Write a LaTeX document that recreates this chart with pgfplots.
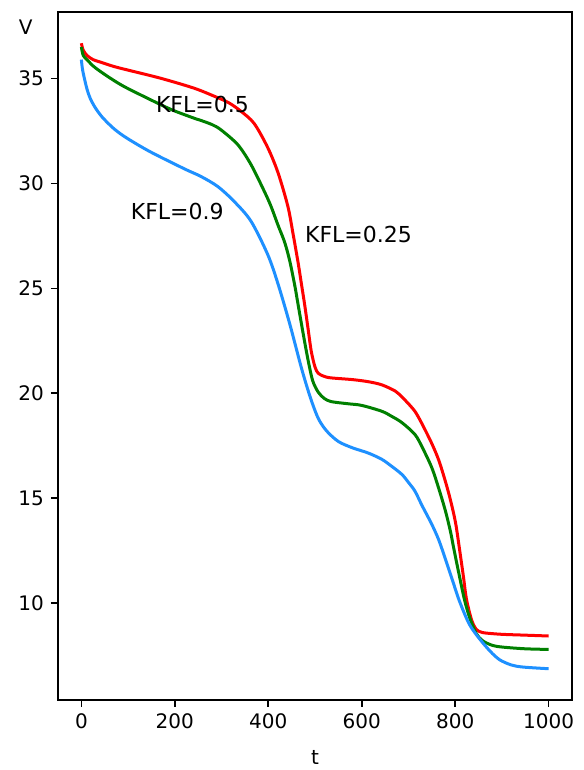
\documentclass[border=0pt]{standalone}
\usepackage{fontspec}
\setmainfont{DejaVu Sans}
\usepackage{pgfplots}
\pgfplotsset{compat=1.18}
\definecolor{mplgreen}{rgb}{0,0.5,0}
\definecolor{dodger}{RGB}{30,144,255}
\begin{document}
\begin{tikzpicture}
\useasboundingbox (-29pt,-35pt) rectangle (262.5pt,350pt);
\begin{axis}[
  width=257pt, height=344pt, scale only axis,
  xmin=-50, xmax=1050, ymin=5.38, ymax=38.17,
  xtick={0,200,400,600,800,1000},
  ytick={10,15,20,25,30,35},
  tick align=outside, tick pos=left,
  major tick length=3.5pt,
  every tick/.style={black, line width=0.8pt},
  axis line style={line width=0.8pt},
  /pgf/number format/assume math mode=true,
  /pgf/number format/1000 sep={},
  tick label style={font=\fontsize{10}{12}\selectfont},
  xlabel={t}, xlabel style={font=\fontsize{10}{12}\selectfont, yshift=-4pt},
  ylabel={V},
  ylabel style={font=\fontsize{10}{12}\selectfont, rotate=-90, at={(rel axis cs:-0.063,0.978)}, anchor=center},
  clip=false,
]
\addplot[red, line width=1.5pt, smooth, tension=0.5] coordinates {
(0,36.68) (4,36.35) (12,36.1) (25,35.9) (41,35.78) (70,35.57) (98,35.41) (170,35.01) (241,34.54) (285,34.15) (315,33.85) (342,33.43) (370,32.85) (399,31.7) (421,30.5) (442,28.9) (453,27.6) (464,26.2) (471,25.2) (478,24.2) (485,23.1) (492,22.0) (500,21.25) (507,20.95) (520,20.8) (535,20.73) (580,20.65) (614,20.55) (643,20.4) (672,20.1) (686,19.82) (700,19.5) (715,19.1) (730,18.5) (750,17.6) (765,16.8) (779,15.8) (790,14.9) (801,13.8) (811,12.3) (818,11.2) (824,10.2) (835,9.2) (845,8.75) (855,8.62) (866,8.57) (900,8.51) (950,8.47) (1000,8.43)
};
\addplot[mplgreen, line width=1.5pt, smooth, tension=0.5] coordinates {
(0,36.5) (4,36.1) (12,35.9) (25,35.6) (41,35.33) (70,34.9) (98,34.54) (170,33.75) (200,33.45) (241,33.11) (256,33.0) (280,32.8) (299,32.55) (335,31.84) (363,30.9) (392,29.6) (406,28.9) (421,28.0) (435,27.2) (446,26.3) (457,25.1) (464,24.2) (475,22.8) (485,21.6) (495,20.6) (507,20.05) (520,19.75) (535,19.6) (570,19.5) (600,19.42) (643,19.14) (664,18.9) (686,18.6) (714,18.03) (730,17.4) (750,16.45) (765,15.45) (779,14.4) (790,13.4) (797,12.6) (808,11.4) (820,10.15) (831,9.3) (845,8.55) (859,8.2) (880,7.98) (902,7.9) (950,7.82) (1000,7.79)
};
\addplot[dodger, line width=1.5pt, smooth, tension=0.5] coordinates {
(0,35.9) (2,35.5) (5,35.15) (12,34.5) (19,34.05) (30,33.6) (45,33.15) (70,32.6) (98,32.15) (148,31.5) (220,30.7) (256,30.33) (292,29.85) (327,29.14) (363,28.2) (399,26.6) (421,25.2) (446,23.3) (471,21.2) (490,19.8) (507,18.8) (525,18.2) (550,17.7) (580,17.4) (614,17.15) (643,16.85) (664,16.52) (686,16.13) (700,15.75) (714,15.33) (729,14.65) (750,13.75) (765,13.0) (779,12.1) (794,11.1) (809,10.1) (830,9.0) (852,8.3) (875,7.7) (895,7.3) (920,7.05) (945,6.95) (1000,6.87)
};
\node[anchor=base west, inner sep=0pt, font=\fontsize{11}{13}\selectfont] at (axis cs:159,33.4) {KFL=0.5};
\node[anchor=base west, inner sep=0pt, font=\fontsize{11}{13}\selectfont] at (axis cs:105,28.3) {KFL=0.9};
\node[anchor=base west, inner sep=0pt, font=\fontsize{11}{13}\selectfont] at (axis cs:478,27.2) {KFL=0.25};
\end{axis}
\end{tikzpicture}
\end{document}
